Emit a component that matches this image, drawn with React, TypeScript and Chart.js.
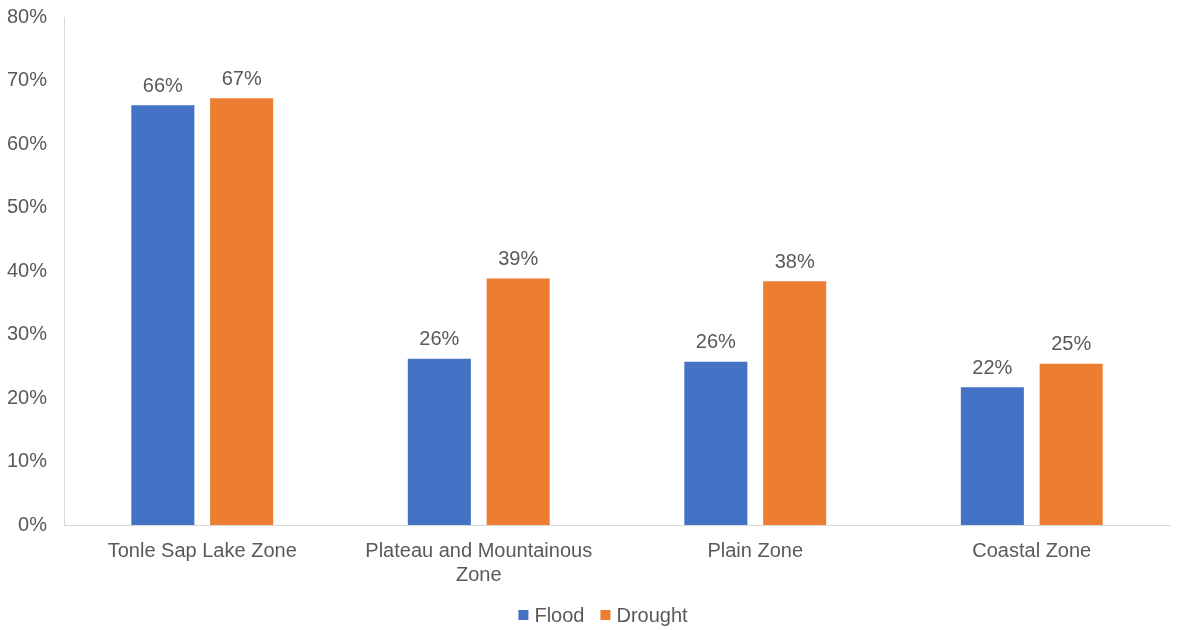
import React, { useEffect, useRef } from "react";
import { Chart, registerables } from "chart.js";

Chart.register(...registerables);

const categories: (string | string[])[] = [
  "Tonle Sap Lake Zone",
  ["Plateau and Mountainous", "Zone"],
  "Plain Zone",
  "Coastal Zone",
];
const floodValues = [66.1, 26.2, 25.7, 21.7];
const droughtValues = [67.2, 38.8, 38.4, 25.4];
const seriesNames = ["Flood", "Drought"];
const yMax = 80;
const yStep = 10;

const FONT = "'Liberation Sans', Arial, sans-serif";
const TEXT = "#595959";
const FS = 20;

const valueLabels = {
  id: "valueLabels",
  afterDatasetsDraw(chart: any) {
    const ctx = chart.ctx;
    ctx.save();
    ctx.font = `${FS}px ${FONT}`;
    ctx.fillStyle = TEXT;
    ctx.textAlign = "center";
    ctx.textBaseline = "bottom";
    chart.data.datasets.forEach((ds: any, i: number) => {
      const meta = chart.getDatasetMeta(i);
      meta.data.forEach((bar: any, j: number) => {
        ctx.fillText(Math.round(ds.data[j]) + "%", bar.x, bar.y - 9);
      });
    });
    ctx.restore();
  },
};

const customLegend = {
  id: "customLegend",
  afterDraw(chart: any) {
    const ctx = chart.ctx;
    ctx.save();
    ctx.font = `${FS}px ${FONT}`;
    ctx.textBaseline = "middle";
    ctx.textAlign = "left";
    const box = 10;
    const gap = 6;
    const spacing = 16;
    const items = chart.data.datasets.map((ds: any) => ({
      label: ds.label,
      color: ds.backgroundColor,
      w: ctx.measureText(ds.label).width,
    }));
    const total =
      items.reduce((a: number, it: any) => a + box + gap + it.w, 0) +
      spacing * (items.length - 1);
    let x = chart.width / 2 + 14 - total / 2;
    const y = chart.height - 15;
    items.forEach((it: any) => {
      ctx.fillStyle = it.color;
      ctx.fillRect(x, y - box / 2, box, box);
      x += box + gap;
      ctx.fillStyle = TEXT;
      ctx.fillText(it.label, x, y + 1);
      x += it.w + spacing;
    });
    ctx.restore();
  },
};

export default function App() {
  const ref = useRef<HTMLCanvasElement>(null);
  useEffect(() => {
    if (!ref.current) return;
    const chart = new Chart(ref.current, {
      type: "bar",
      data: {
        labels: categories,
        datasets: [
          {
            label: seriesNames[0],
            data: floodValues,
            backgroundColor: "#4472C4",
            categoryPercentage: 0.57,
            barPercentage: 0.8,
          },
          {
            label: seriesNames[1],
            data: droughtValues,
            backgroundColor: "#ED7D31",
            categoryPercentage: 0.57,
            barPercentage: 0.8,
          },
        ],
      },
      options: {
        animation: false,
        responsive: true,
        maintainAspectRatio: false,
        layout: { padding: { top: 0, right: 8, left: 0, bottom: 0 } },
        plugins: {
          tooltip: { enabled: false },
          legend: { display: false },
        },
        scales: {
          x: {
            grid: { display: false },
            border: { display: true, color: "#d9d9d9", width: 1 },
            ticks: {
              color: TEXT,
              font: { size: FS, family: FONT },
              padding: 6,
              maxRotation: 0,
            },
            afterFit: (s: any) => {
              s.height = 105;
            },
          },
          y: {
            min: 0,
            max: yMax,
            grid: { display: false },
            border: { display: true, color: "#d9d9d9", width: 1 },
            ticks: {
              stepSize: yStep,
              color: TEXT,
              font: { size: FS, family: FONT },
              padding: 9,
              callback: (v: any) => v + "%",
            },
            afterFit: (s: any) => {
              s.width = 64;
            },
          },
        },
      },
      plugins: [valueLabels, customLegend],
    });
    return () => chart.destroy();
  }, []);
  return (
    <div style={{ position: "fixed", left: 0, top: -4, width: 1178, height: 634, background: "#fff" }}>
      <canvas ref={ref} />
    </div>
  );
}
